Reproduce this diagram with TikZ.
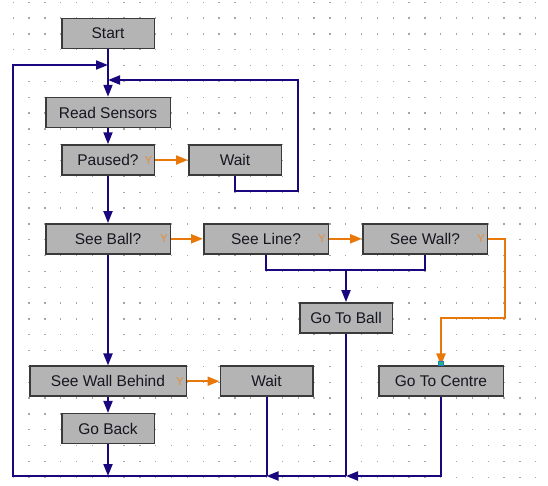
\documentclass[tikz,border=0pt]{standalone}
\usepackage{fontspec}
\setmainfont{Liberation Sans}
\usetikzlibrary{arrows.meta}
\definecolor{navy}{RGB}{25,8,125}
\definecolor{orng}{RGB}{232,120,10}
\definecolor{ycol}{RGB}{226,142,62}
\definecolor{boxfill}{RGB}{180,180,180}
\definecolor{boxline}{RGB}{58,58,58}
\definecolor{txt}{RGB}{22,22,32}
\definecolor{dotc}{RGB}{165,165,165}
\definecolor{mark}{RGB}{20,190,120}
\definecolor{markedge}{RGB}{40,120,200}
\tikzset{
  box/.style={draw=boxline, line width=1.5pt, fill=boxfill, minimum height=30pt,
    inner sep=0pt, text height=11.1pt, text depth=0pt,
    font=\fontsize{15.5}{18}\selectfont, text=txt},
  ylab/.style={text=ycol, font=\fontsize{11.5}{12}\selectfont, inner sep=0pt,
    text height=8.2pt, text depth=0pt},
  bline/.style={draw=navy, line width=2pt},
  barrow/.style={draw=navy, line width=2pt, -{Triangle[length=12pt,width=9pt]}},
  oarrow/.style={draw=orng, line width=2pt, -{Triangle[length=12pt,width=9pt]}},
  gmark/.style={fill=mark, draw=markedge, line width=0.6pt, minimum width=4.5pt,
    minimum height=4.5pt, inner sep=0pt}
}
\begin{document}
\begin{tikzpicture}[x=1pt,y=-1pt]
\useasboundingbox (0,0) rectangle (548,485);
\fill[white] (0,0) rectangle (548,485);
% dot grid
\foreach \i in {0,...,33}{\foreach \j in {0,...,30}{
  \fill[dotc] ({13.3+15.83*\i-0.7},{2.3+15.83*\j-0.7}) rectangle ++(1.4,1.4);}}
% boxes
\node[box, minimum width=92.5pt] (start) at (108,33.4) {Start};
\node[box, minimum width=124.5pt] (read) at (108,112.5) {Read Sensors};
\node[box, minimum width=92.5pt] (paused) at (108,160) {Paused?};
\node[box, minimum width=92.5pt] (wait1) at (235,160) {Wait};
\node[box, minimum width=124.5pt] (seeball) at (108,238.8) {See Ball?};
\node[box, minimum width=124.5pt] (seeline) at (266,238.8) {See Line?};
\node[box, minimum width=124.5pt] (seewall) at (425,238.8) {See Wall?};
\node[box, minimum width=92.5pt] (gotoball) at (346,317.8) {Go To Ball};
\node[box, minimum width=156.5pt] (swb) at (108,381.2) {See Wall Behind};
\node[box, minimum width=92.5pt] (wait2) at (266.5,381.2) {Wait};
\node[box, minimum width=124.5pt] (gtc) at (441,381.2) {Go To Centre};
\node[box, minimum width=92.5pt] (goback) at (108,428.7) {Go Back};
% Y labels
\node[ylab] (pY) at ([xshift=-6.5pt]paused.east) {Y};
\node[ylab] (bY) at ([xshift=-7pt]seeball.east) {Y};
\node[ylab] (lY) at ([xshift=-7pt]seeline.east) {Y};
\node[ylab] (wY) at ([xshift=-7pt]seewall.east) {Y};
\node[ylab] (sY) at ([xshift=-7pt]swb.east) {Y};
% coordinates
\coordinate (mA) at (108,65);
\coordinate (mB) at (108,80);
\coordinate (wR) at (298,191);
\coordinate (jL) at (346,270);
\coordinate (oT) at (504.7,317.7);
\coordinate (jG) at (346,476);
\coordinate (jW) at (266.5,476);
\coordinate (jB) at (108,476);
\coordinate (bL) at (13,476);
% main flow
\draw[barrow] (start.south) -- (read.north);
\draw[barrow] (read.south) -- (paused.north);
\draw[barrow] (paused.south) -- (seeball.north);
\draw[barrow] (seeball.south) -- (swb.north);
\draw[barrow] (swb.south) -- (goback.north);
\draw[barrow] (goback.south) -- (jB);
% yes branches
\draw[oarrow] (paused.east) -- (wait1.west);
\draw[oarrow] (seeball.east) -- (seeline.west);
\draw[oarrow] (seeline.east) -- (seewall.west);
\draw[oarrow] (swb.east) -- (wait2.west);
\draw[oarrow] (seewall.east) -| (oT) -| (gtc.north);
\node[gmark, anchor=south] (gm) at ([yshift=-0.6pt]gtc.north) {};
% wait loop
\draw[barrow] (wait1.south) |- (wR) |- (mB);
% see line / see wall to go to ball
\draw[bline] (seeline.south) |- (jL) -| (seewall.south);
\draw[barrow] (jL) -- (gotoball.north);
% bottom return
\draw[barrow] (gtc.south) |- (jG);
\draw[bline] (gotoball.south) -- (jG);
\draw[barrow] (jG) -- (jW);
\draw[bline] (wait2.south) -- (jW);
\draw[barrow] (jW) -- (bL) |- (mA);
\end{tikzpicture}
\end{document}
